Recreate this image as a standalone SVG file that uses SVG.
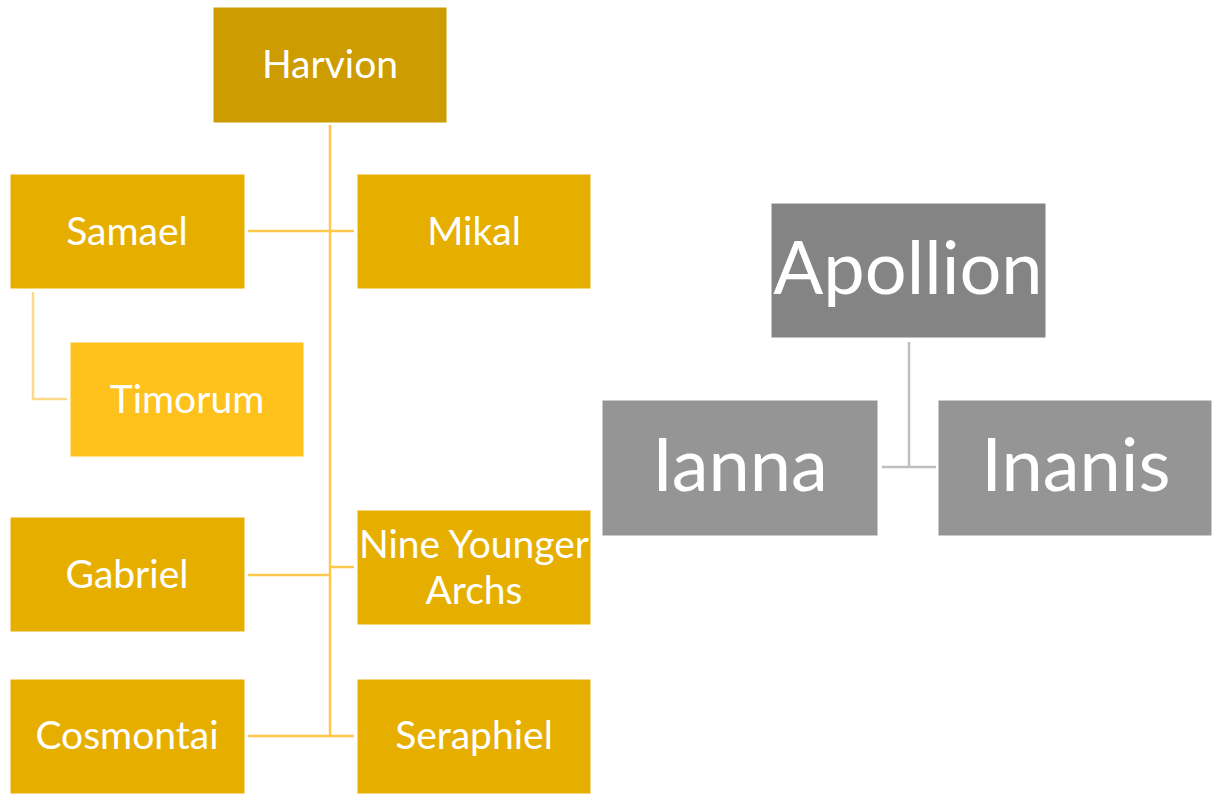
<svg xmlns="http://www.w3.org/2000/svg" width="1212" height="795" viewBox="0 0 1212 795">
<style>
.n{stroke:#ffffff;stroke-width:1;}
.top{fill:#CC9C00;}
.ch{fill:#E6AF00;}
.tim{fill:#FFC11C;}
.ap{fill:#848484;}
.gr{fill:#959595;}
.t{font-family:Lato,"Open Sans",sans-serif;fill:#ffffff;text-anchor:middle;font-size:39px;}
.tb{font-size:74px;}
.cy{stroke:#FFC84C;stroke-width:2.5;fill:none;}
.cy2{stroke:#FFD98A;stroke-width:2.5;fill:none;}
.cg{stroke:#BFBFBF;stroke-width:2.5;fill:none;}
</style>
<rect width="1212" height="795" fill="#ffffff"/>
<g id="connectors">
<path class="cy" d="M330,125 V736"/>
<path class="cy" d="M248,231 H354"/>
<path class="cy" d="M248,575 H330"/>
<path class="cy" d="M330,567 H354"/>
<path class="cy" d="M248,736 H354"/>
<path class="cy2" d="M33,292 V399 H67"/>
<path class="cg" d="M909,342 V467"/>
<path class="cg" d="M882,467 H936"/>
</g>
<g id="harvion"><rect class="n top" x="213" y="7" width="234" height="116"/><text class="t" x="330" y="78">Harvion</text></g>
<g id="samael"><rect class="n ch" x="10" y="174" width="235" height="115"/><text class="t" x="127" y="245">Samael</text></g>
<g id="mikal"><rect class="n ch" x="357" y="174" width="234" height="115"/><text class="t" x="474" y="245">Mikal</text></g>
<g id="timorum"><rect class="n tim" x="70" y="342" width="234" height="115"/><text class="t" x="187" y="413">Timorum</text></g>
<g id="gabriel"><rect class="n ch" x="10" y="517" width="235" height="115"/><text class="t" x="127" y="588">Gabriel</text></g>
<g id="nine"><rect class="n ch" x="357" y="510" width="234" height="115"/><text class="t" x="474" y="558">Nine Younger</text><text class="t" x="474" y="604">Archs</text></g>
<g id="cosmontai"><rect class="n ch" x="10" y="679" width="235" height="115"/><text class="t" x="127" y="749">Cosmontai</text></g>
<g id="seraphiel"><rect class="n ch" x="357" y="679" width="234" height="115"/><text class="t" x="474" y="749">Seraphiel</text></g>
<g id="apollion"><rect class="n ap" x="771" y="203" width="275" height="135"/><text class="t tb" x="908" y="294">Apollion</text></g>
<g id="ianna"><rect class="n gr" x="602" y="400" width="276" height="136"/><text class="t tb" x="740" y="491">Ianna</text></g>
<g id="inanis"><rect class="n gr" x="938" y="400" width="274" height="136"/><text class="t tb" x="1076" y="491">Inanis</text></g>
</svg>
